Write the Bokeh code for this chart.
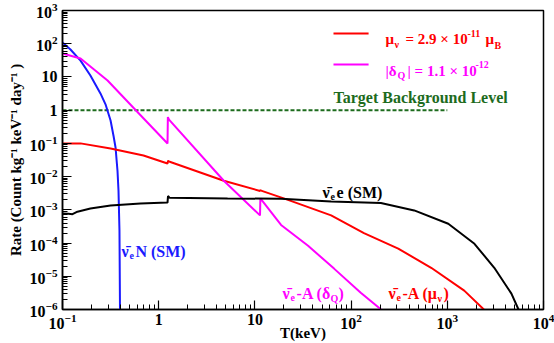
from bokeh.plotting import figure
from bokeh.models import Label, Arrow, FixedTicker
from bokeh.embed import file_html
from bokeh.resources import INLINE

# ---------------- data ----------------
# anti-nu_e N coherent scattering (SM) - blue
nuN_T = [0.1, 0.121, 0.154, 0.195, 0.248, 0.28, 0.316, 0.339, 0.356, 0.373, 0.382, 0.391, 0.396]
nuN_rate = [109, 67, 31, 11, 3.2, 1.5, 0.49, 0.17, 0.075, 0.015, 3.8e-3, 2.4e-4, 1e-6]

# anti-nu_e e scattering (SM) - black
nue_T = [0.1, 0.115, 0.127, 0.143, 0.195, 0.316, 0.647, 1.235, 1.25, 1.3, 5.2, 18.7, 62, 204, 453, 1024, 1915, 3080, 4640, 5500]
nue_rate = [7.8e-4, 7.6e-4, 7.4e-4, 8.8e-4, 1.09e-3, 1.34e-3, 1.54e-3, 1.65e-3, 2.6e-3, 2.3e-3, 2.2e-3, 2.15e-3, 1.78e-3, 1.6e-3, 9.6e-4, 3.8e-4, 9.5e-5, 1.8e-5, 3e-6, 1e-6]

# anti-nu_e A, magnetic moment - red
mu_T = [0.1, 0.154, 0.316, 0.695, 1.235, 1.25, 1.3, 4.75, 11.3, 11.4, 11.6, 21, 62, 136, 309, 680, 1500, 2400]
mu_rate = [0.1, 0.1, 0.07, 0.043, 0.0247, 0.03, 0.028, 7.5e-3, 3.7e-3, 3.95e-3, 3.8e-3, 2.1e-3, 6.8e-4, 2e-4, 6.8e-5, 1.8e-5, 3.7e-6, 1e-6]

# anti-nu_e A, charge radius / millicharge - magenta
dq_T = [0.1, 0.154, 0.294, 0.73, 1.235, 1.245, 1.28, 4.75, 11.3, 11.4, 18.7, 35.7, 66.5, 126, 205]
dq_rate = [51, 36, 7.8, 0.49, 0.099, 0.62, 0.52, 7.5e-3, 6.8e-4, 2.2e-3, 3.5e-4, 8.3e-5, 1.7e-5, 3.2e-6, 1e-6]

# target background level - dark green
bkg_T = [0.1, 1000]
bkg_rate = [1.0, 1.0]

x_ticks = [0.1, 1, 10, 100, 1000, 10000]
y_ticks = [1e-6, 1e-5, 1e-4, 1e-3, 1e-2, 0.1, 1, 10, 100, 1000]
plain_labels = {1: "1", 10: "10"}

FONT = "Liberation Serif"
RED, MAG, BLUE, GREEN = "#ff0000", "#ff00ff", "#1a1aff", "#1d6b1d"

p = figure(width=554, height=343, x_axis_type="log", y_axis_type="log",
           x_range=(0.1, 1e4), y_range=(1e-6, 1e3),
           output_backend="svg", toolbar_location=None,
           min_border_left=62, min_border_right=11, min_border_top=10, min_border_bottom=34)
p.background_fill_color = "white"
p.border_fill_color = "white"
p.outline_line_color = "black"
p.outline_line_width = 1.5
p.xgrid.visible = False
p.ygrid.visible = False

def minor(ticks):
    out = []
    for t in ticks[:-1]:
        out += [t * k for k in range(2, 10)]
    return out

p.xaxis.ticker = FixedTicker(ticks=x_ticks, minor_ticks=minor(x_ticks))
p.yaxis.ticker = FixedTicker(ticks=y_ticks, minor_ticks=minor(y_ticks))
for ax in (p.xaxis[0], p.yaxis[0]):
    ax.major_label_overrides = plain_labels
    ax.major_label_text_font = FONT
    ax.major_label_text_font_style = "bold"
    ax.major_label_text_font_size = "16px"
    ax.major_label_text_color = "black"
    ax.axis_label_text_font = FONT
    ax.axis_label_text_font_style = "bold"
    ax.axis_label_text_font_size = "15px"
    ax.axis_label_text_color = "black"
    ax.axis_line_width = 1.5
    ax.major_tick_in = 9
    ax.major_tick_out = 0
    ax.minor_tick_in = 5
    ax.minor_tick_out = 0
    ax.major_tick_line_width = 1.2
    ax.minor_tick_line_width = 1

p.xaxis.axis_label = "T(keV)"
p.xaxis.major_label_standoff = 4
p.xaxis.axis_label_standoff = -7
p.yaxis.axis_label = "Rate (Count kg\u207b\u00b9 keV\u207b\u00b9 day\u207b\u00b9 )"
p.yaxis.major_label_standoff = 5
p.yaxis.axis_label_standoff = 3

# curves
p.line(bkg_T, bkg_rate, line_color=GREEN, line_width=2, line_dash="4 2")
p.line(nuN_T, nuN_rate, line_color=BLUE, line_width=2)
p.line(mu_T, mu_rate, line_color=RED, line_width=2)
p.line(dq_T, dq_rate, line_color=MAG, line_width=2)
p.line(nue_T, nue_rate, line_color="black", line_width=2)

# legend samples
p.add_layout(Arrow(x_start=65.6, y_start=203, x_end=152, y_end=203, start=None, end=None,
                   line_color=RED, line_width=2))
p.add_layout(Arrow(x_start=65.6, y_start=23.6, x_end=152, y_end=23.6, start=None, end=None,
                   line_color=MAG, line_width=2))

def rich(x, y, parts, color):
    for text, dx, dy, size in parts:
        p.add_layout(Label(x=x, y=y, x_offset=dx, y_offset=dy, text=text,
                           text_font=FONT, text_font_style="bold", text_font_size=f"{size}px",
                           text_color=color, text_baseline="alphabetic", text_align="left"))

NUBAR = "\u03bd\u0304"
# legend texts
rich(228, 134, [("\u03bc", 0, 0, 15), ("\u03bd", 9, -5, 10), ("= 2.9 \u00d7 10", 20, 0, 15),
                ("-11", 82, 6, 10), ("\u03bc", 100, 0, 15), ("B", 109, -6, 10)], RED)
rich(228, 15.6, [("|\u03b4", 0, 0, 15), ("Q", 12, -5, 10), ("| = 1.1 \u00d7 10", 22, 0, 15),
                 ("-12", 90, 6, 10)], MAG)
rich(65.6, 2.4, [("Target Background Level", 0, 0, 16)], GREEN)

# curve annotations
rich(50.5, 3.3e-3, [(NUBAR, 0, 0, 16), ("e", 8, -4, 10), ("e (SM)", 14, 0, 16)], "black")
rich(0.41, 5.5e-5, [(NUBAR, 0, 0, 16), ("e", 8, -4, 10), ("N (SM)", 14, 0, 16)], BLUE)
rich(19.4, 3.0e-6, [(NUBAR, 0, 0, 16), ("e", 8, -4, 10), ("-A (\u03b4", 14, 0, 16),
                    ("Q", 48, -5, 10), (")", 56, 0, 16)], MAG)
rich(245, 3.0e-6, [(NUBAR, 0, 0, 16), ("e", 8, -4, 10), ("-A (\u03bc", 14, 0, 16),
                   ("\u03bd", 49, -5, 10), (")", 55, 0, 16)], RED)

open("out.html", "w").write(file_html(p, INLINE))
